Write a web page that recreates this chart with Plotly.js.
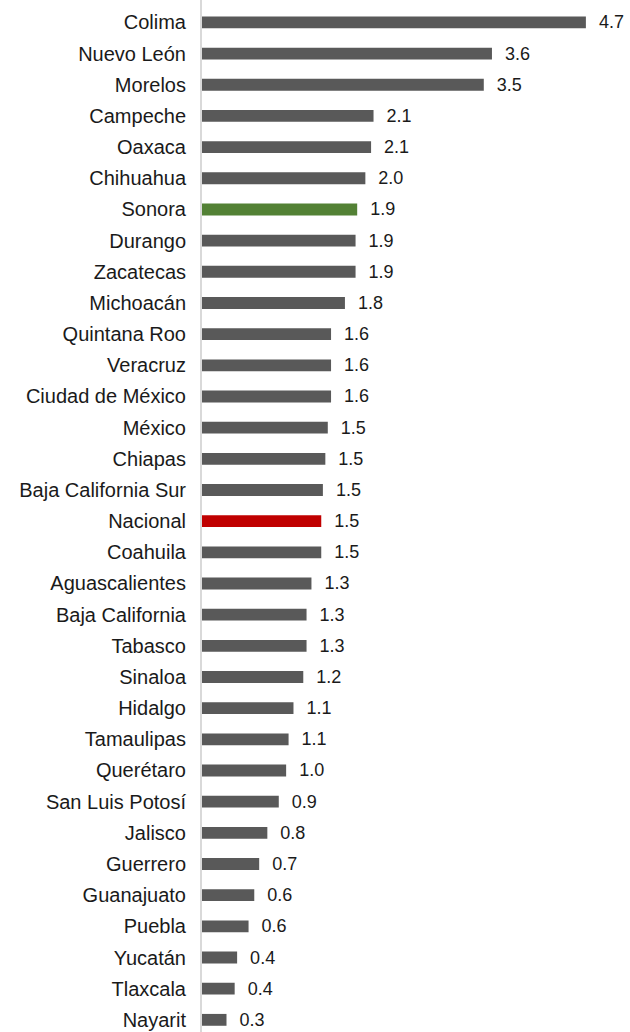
<!DOCTYPE html>
<html>
<head>
<meta charset="utf-8">
<script src="https://cdn.plot.ly/plotly-3.0.1.min.js"></script>
<style>
  html, body { margin: 0; padding: 0; background: #fff; }
  #plot { width: 630px; height: 1032px; }
</style>
</head>
<body>
<div id="plot"></div>
<script>
// estados, de arriba hacia abajo
const estados = [
  'Colima', 'Nuevo León', 'Morelos', 'Campeche', 'Oaxaca', 'Chihuahua',
  'Sonora', 'Durango', 'Zacatecas', 'Michoacán', 'Quintana Roo', 'Veracruz',
  'Ciudad de México', 'México', 'Chiapas', 'Baja California Sur', 'Nacional',
  'Coahuila', 'Aguascalientes', 'Baja California', 'Tabasco', 'Sinaloa',
  'Hidalgo', 'Tamaulipas', 'Querétaro', 'San Luis Potosí', 'Jalisco',
  'Guerrero', 'Guanajuato', 'Puebla', 'Yucatán', 'Tlaxcala', 'Nayarit'
];

// valores estimados a partir del largo de las barras
const valores = [
  4.70, 3.55, 3.45, 2.10, 2.07, 2.00,
  1.90, 1.88, 1.88, 1.75, 1.58, 1.58,
  1.58, 1.54, 1.51, 1.48, 1.46,
  1.46, 1.34, 1.28, 1.28, 1.24,
  1.12, 1.06, 1.03, 0.94, 0.80,
  0.70, 0.64, 0.57, 0.43, 0.40, 0.30
];

// etiquetas tal como aparecen en la gráfica
const etiquetas = [
  '4.7', '3.6', '3.5', '2.1', '2.1', '2.0',
  '1.9', '1.9', '1.9', '1.8', '1.6', '1.6',
  '1.6', '1.5', '1.5', '1.5', '1.5',
  '1.5', '1.3', '1.3', '1.3', '1.2',
  '1.1', '1.1', '1.0', '0.9', '0.8',
  '0.7', '0.6', '0.6', '0.4', '0.4', '0.3'
];

const colores = estados.map(e => {
  if (e === 'Sonora') return '#538135';
  if (e === 'Nacional') return '#c00000';
  return '#595959';
});

const fuente = "Arial, 'Liberation Sans', sans-serif";

const trace = {
  type: 'bar',
  orientation: 'h',
  x: valores,
  y: estados,
  marker: { color: colores },
  text: etiquetas.map(t => '\u00a0\u00a0' + t),
  textposition: 'outside',
  constraintext: 'none',
  cliponaxis: false,
  textfont: { family: fuente, size: 18, color: '#1a1a1a' },
  hoverinfo: 'none'
};

const layout = {
  width: 630,
  height: 1032,
  margin: { l: 202, r: 0, t: 0, b: 0 },
  paper_bgcolor: '#ffffff',
  plot_bgcolor: '#ffffff',
  showlegend: false,
  bargap: 0.62,
  font: { family: fuente, size: 20, color: '#1a1a1a' },
  xaxis: {
    range: [0, 5.24],
    showgrid: false,
    zeroline: false,
    showticklabels: false,
    showline: false
  },
  yaxis: {
    type: 'category',
    range: [32.39, -0.72],
    showgrid: false,
    zeroline: false,
    showline: true,
    linecolor: '#d9d9d9',
    linewidth: 2,
    ticks: '',
    ticklabelstandoff: 10,
    tickfont: { family: fuente, size: 20, color: '#1a1a1a' }
  }
};

Plotly.newPlot('plot', [trace], layout, { staticPlot: true });
</script>
</body>
</html>
